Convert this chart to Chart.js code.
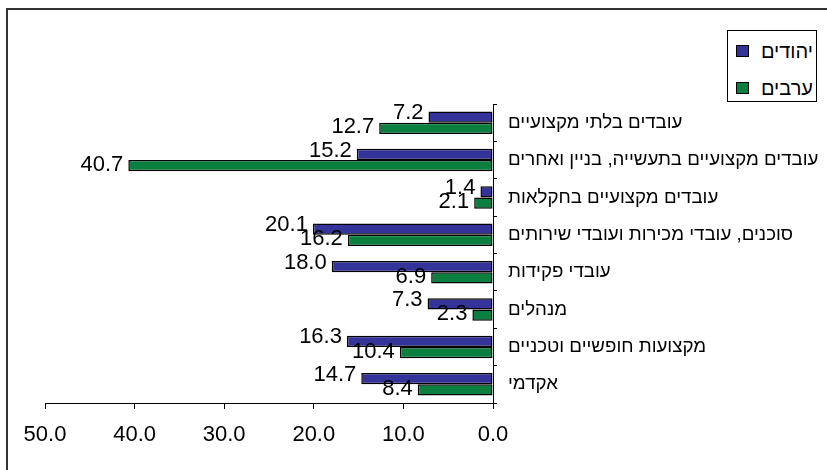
<!DOCTYPE html>
<html lang="he">
<head>
<meta charset="UTF-8">
<title>יהודים וערבים לפי משלח יד</title>
<script src="https://cdn.jsdelivr.net/npm/chart.js"></script>
<style>
    body { margin: 0; background: #fff; }
    .wrap { position: relative; width: 827px; height: 470px; overflow: hidden; background: #fff; }
    .frame { position: absolute; left: 6px; top: 8px; width: 900px; height: 600px;
             border-top: 2px solid #333; border-left: 2px solid #333; }
    #chart { position: absolute; left: 0; top: 0; }
    .legend { position: absolute; left: 727px; top: 30px; width: 88px; height: 70px;
              border: 1px solid #000; background: #fff;
              font: 20px "Liberation Sans", Arial, sans-serif; color: #000; }
    .legend .item { position: absolute; left: 8px; right: 3px; height: 22px;
                    display: flex; align-items: center; justify-content: space-between; }
    .legend .box { width: 11px; height: 10px; border: 1px solid #000; }
</style>
</head>
<body>
<div class="wrap">
    <div class="frame"></div>
    <canvas id="chart" width="827" height="470"></canvas>
    <div class="legend" id="legend"></div>
</div>
<script>
    const categories = [
        'עובדים בלתי מקצועיים',
        'עובדים מקצועיים בתעשייה, בניין ואחרים',
        'עובדים מקצועיים בחקלאות',
        'סוכנים, עובדי מכירות ועובדי שירותים',
        'עובדי פקידות',
        'מנהלים',
        'מקצועות חופשיים וטכניים',
        'אקדמי'
    ];
    const jews = [7.2, 15.2, 1.4, 20.1, 18.0, 7.3, 16.3, 14.7];
    const arabs = [12.7, 40.7, 2.1, 16.2, 6.9, 2.3, 10.4, 8.4];
    const seriesNames = ['יהודים', 'ערבים'];
    const seriesColors = ['#333399', '#0b7f3f'];

    const fontFamily = '"Liberation Sans", Arial, "DejaVu Sans", sans-serif';
    Chart.defaults.font.family = fontFamily;
    Chart.defaults.color = '#000';

    // numbers next to the end of each bar
    const labelShift = [-4, -1];
    const valueLabels = {
        id: 'valueLabels',
        afterDatasetsDraw(chart) {
            const ctx = chart.ctx;
            ctx.save();
            ctx.font = '22px ' + fontFamily;
            ctx.fillStyle = '#000';
            ctx.textAlign = 'right';
            ctx.textBaseline = 'middle';
            chart.data.datasets.forEach((ds, i) => {
                chart.getDatasetMeta(i).data.forEach((bar, j) => {
                    ctx.fillText(ds.data[j].toFixed(1), bar.x - 5, bar.y + labelShift[i]);
                });
            });
            ctx.restore();
        }
    };

    const barStyle = {
        borderColor: '#000',
        borderWidth: 1.5,
        borderSkipped: false,
        categoryPercentage: 0.6,
        barPercentage: 1
    };

    new Chart(document.getElementById('chart'), {
        type: 'bar',
        data: {
            labels: categories,
            datasets: [
                Object.assign({ label: seriesNames[0], data: jews, backgroundColor: seriesColors[0] }, barStyle),
                Object.assign({ label: seriesNames[1], data: arabs, backgroundColor: seriesColors[1] }, barStyle)
            ]
        },
        options: {
            indexAxis: 'y',
            responsive: false,
            animation: false,
            layout: { padding: { left: 45, top: 104, right: 0, bottom: 0 } },
            plugins: {
                legend: { display: false },
                tooltip: { enabled: false }
            },
            scales: {
                x: {
                    reverse: true,
                    min: 0,
                    max: 50,
                    ticks: {
                        stepSize: 10,
                        padding: 13,
                        font: { size: 22 },
                        callback: v => v.toFixed(1)
                    },
                    grid: { drawOnChartArea: false, tickLength: 6, color: '#000' },
                    border: { color: '#000' },
                    afterFit: s => { s.height = 67; }
                },
                y: {
                    position: 'right',
                    ticks: { padding: 11, font: { size: 18.7 } },
                    grid: { drawOnChartArea: false, tickLength: 4, color: '#000', offset: true },
                    border: { color: '#000' },
                    afterFit: s => { s.width = 334; }
                }
            }
        },
        plugins: [valueLabels]
    });

    // boxed legend in the top right corner
    const legend = document.getElementById('legend');
    seriesNames.forEach((name, i) => {
        const item = document.createElement('div');
        item.className = 'item';
        item.style.top = (9 + i * 37) + 'px';
        item.innerHTML = '<span class="box" style="background:' + seriesColors[i] + '"></span><span>' + name + '</span>';
        legend.appendChild(item);
    });
</script>
</body>
</html>
